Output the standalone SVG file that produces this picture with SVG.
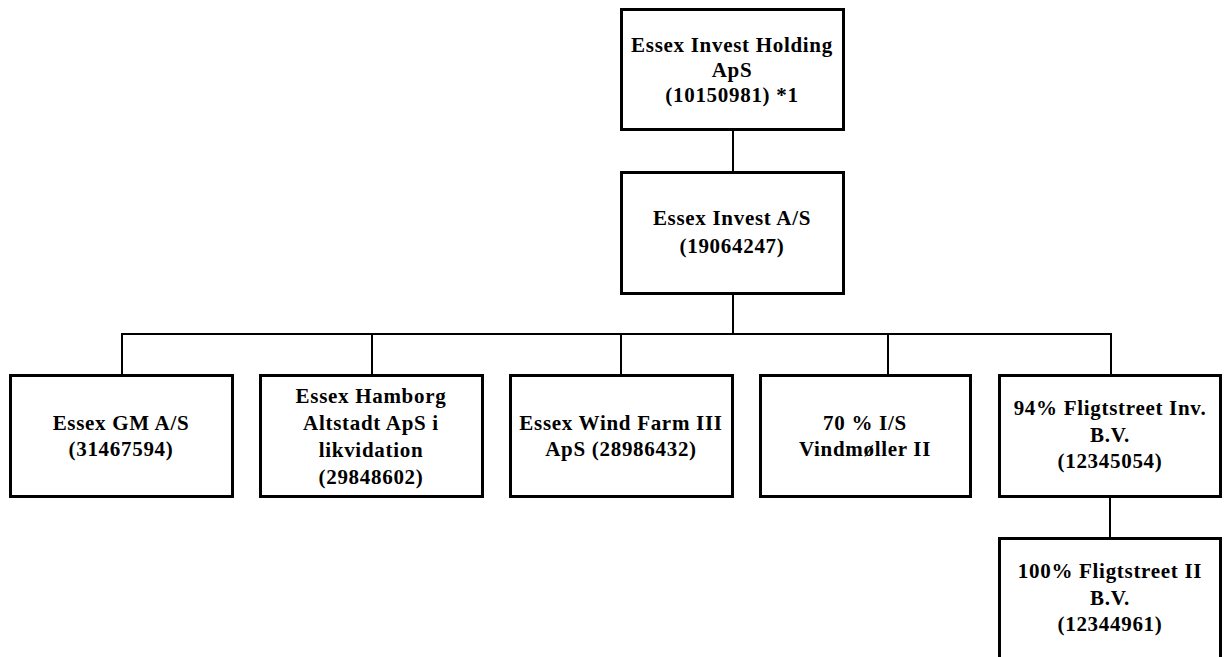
<svg xmlns="http://www.w3.org/2000/svg" width="1226" height="657" viewBox="0 0 1226 657">
<style>
.box{fill:#fff;stroke:#000;stroke-width:3}
.ln{stroke:#000;stroke-width:2;fill:none}
text{font-family:"Liberation Serif","Times New Roman",serif;font-weight:bold;font-size:21px;letter-spacing:0.7px;text-anchor:middle;fill:#000}
</style>
<rect width="1226" height="657" fill="#fff"/>
<g id="connectors">
<line class="ln" x1="733" y1="130" x2="733" y2="172"/>
<line class="ln" x1="733" y1="294" x2="733" y2="334"/>
<line class="ln" x1="121" y1="334" x2="1112" y2="334"/>
<line class="ln" x1="122" y1="334" x2="122" y2="375"/>
<line class="ln" x1="372" y1="334" x2="372" y2="375"/>
<line class="ln" x1="621" y1="334" x2="621" y2="375"/>
<line class="ln" x1="888" y1="334" x2="888" y2="375"/>
<line class="ln" x1="1111" y1="334" x2="1111" y2="375"/>
<line class="ln" x1="1110" y1="497" x2="1110" y2="538"/>
</g>
<g id="n-holding">
<rect class="box" x="621.5" y="9.5" width="222" height="120"/>
<text x="732" y="52">Essex Invest Holding</text>
<text x="732" y="77">ApS</text>
<text x="732" y="102">(10150981) *1</text>
</g>
<g id="n-invest">
<rect class="box" x="621.5" y="172.5" width="222" height="121"/>
<text x="732" y="225">Essex Invest A/S</text>
<text x="732" y="253">(19064247)</text>
</g>
<g id="n-gm">
<rect class="box" x="10.5" y="375.5" width="222" height="121"/>
<text x="121" y="430">Essex GM A/S</text>
<text x="121" y="456">(31467594)</text>
</g>
<g id="n-hamborg">
<rect class="box" x="260.5" y="375.5" width="222" height="121"/>
<text x="371" y="403">Essex Hamborg</text>
<text x="371" y="430">Altstadt ApS i</text>
<text x="371" y="457">likvidation</text>
<text x="371" y="484">(29848602)</text>
</g>
<g id="n-windfarm">
<rect class="box" x="510.5" y="375.5" width="222" height="121"/>
<text x="621" y="430">Essex Wind Farm III</text>
<text x="621" y="456">ApS (28986432)</text>
</g>
<g id="n-vindmoller">
<rect class="box" x="760.5" y="375.5" width="210" height="121"/>
<text x="865" y="430">70 % I/S</text>
<text x="865" y="456">Vindmøller II</text>
</g>
<g id="n-fligt1">
<rect class="box" x="999.5" y="375.5" width="221" height="121"/>
<text x="1110" y="415">94% Fligtstreet Inv.</text>
<text x="1110" y="442">B.V.</text>
<text x="1110" y="468">(12345054)</text>
</g>
<g id="n-fligt2">
<rect class="box" x="999.5" y="538.5" width="221" height="140"/>
<text x="1110" y="578">100% Fligtstreet II</text>
<text x="1110" y="605">B.V.</text>
<text x="1110" y="631">(12344961)</text>
</g>
</svg>
